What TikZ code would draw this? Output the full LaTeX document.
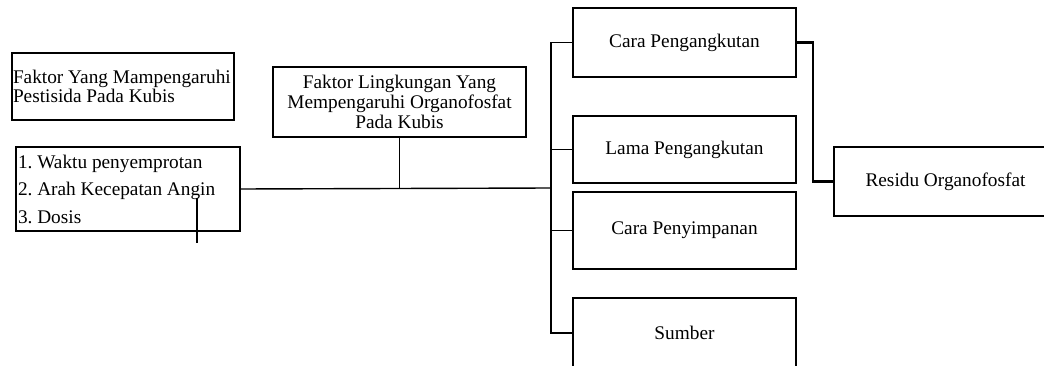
\documentclass[tikz,border=0pt]{standalone}
\usepackage{xcolor}
\usepackage{fontspec}
\setmainfont{Liberation Serif}
\usepackage{tikz}
\frenchspacing
\hyphenpenalty=10000
\newcommand{\boxfont}[1]{\fontsize{19.3}{#1}\selectfont}
\newcommand{\tightspace}{\spaceskip=0pt\xspaceskip=0pt\relax}

\tikzset{
  box/.style={draw,line width=1.3pt,rectangle,inner sep=1pt,
    font=\boxfont{20}},
  link/.style={line width=1.4pt},
  boldlink/.style={line width=2.2pt}
}

\begin{document}
\begin{tikzpicture}[x=1pt,y=-1pt]
    \path[use as bounding box,clip] (0,0) rectangle (1044,366);
    \node[box,minimum width=222pt,minimum height=67pt,text width=220pt,align=left,
      font=\boxfont{18.5}](fp) at (123,86.5)
      {\tightspace Faktor Yang Mampengaruhi\\Pestisida Pada Kubis};
    \node[box,minimum width=224pt,minimum height=84pt,text width=220pt,align=left,
      font=\boxfont{27.5}](lst) at (128,189)
      {\tightspace 1. Waktu penyemprotan\\2. Arah Kecepatan Angin\\3. Dosis};
    \node[box,minimum width=253pt,minimum height=70pt,align=center](fl) at (399.5,102)
      {Faktor Lingkungan Yang\\Mempengaruhi Organofosfat\\Pada Kubis};
    \node[box,minimum width=223pt,minimum height=69pt](r1) at (684.5,42.5){Cara Pengangkutan};
    \node[box,minimum width=223pt,minimum height=67pt](r2) at (684.5,149.5){Lama Pengangkutan};
    \node[box,minimum width=223pt,minimum height=77pt](r3) at (684.5,230.5){Cara Penyimpanan};
    \node[box,minimum width=223pt,minimum height=70pt](r4) at (684.5,333){Sumber};
    \node[box,minimum width=223pt,minimum height=69pt](res) at (945.5,181.5){Residu Organofosfat};

    \coordinate (tr) at (551,188);
    \draw[link] (lst.east) -- (tr);
    \draw[link] (fl.south) -- (fl.south |- tr);
    \foreach \r in {r1,r2,r3,r4}
      \draw[link] (tr) |- (\r.west);
    \draw[boldlink] (r1.east) -- ++(16,0) |- (res.west);

    \coordinate (s1) at (197,198);
    \coordinate (s2) at (197,243);
    \draw[line width=2.8pt] (s1) -- (s2);
  \end{tikzpicture}
\end{document}
